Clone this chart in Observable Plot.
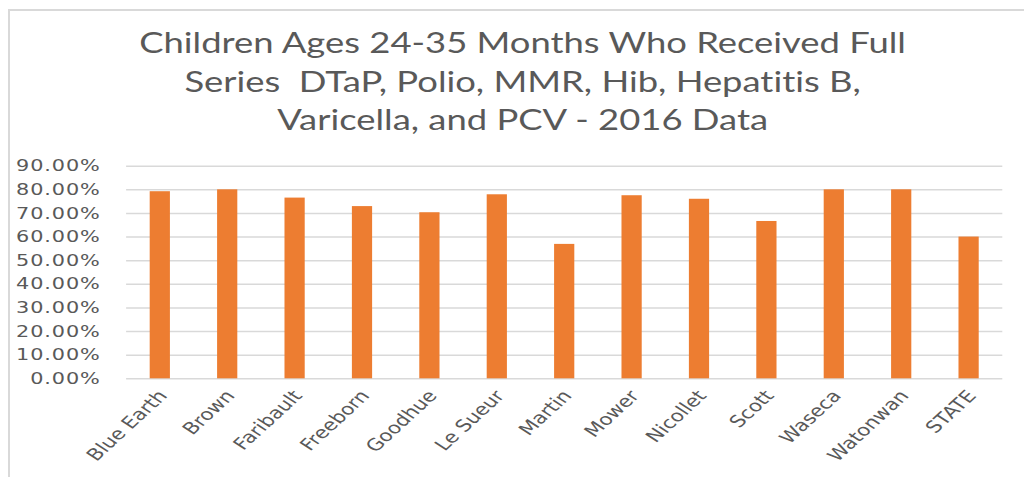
<!DOCTYPE html>
<html>
<head>
<meta charset="utf-8">
<script src="https://cdn.jsdelivr.net/npm/d3@7"></script>
<script src="https://cdn.jsdelivr.net/npm/@observablehq/plot@0.6"></script>
<style>
  html, body { margin: 0; padding: 0; background: #fff; overflow: hidden; width: 1024px; height: 477px; }
  #frame { position: absolute; left: 8px; top: 9px; width: 1100px; height: 600px; border: 2px solid #d9d9d9; box-sizing: border-box; }
  #stage { position: absolute; left: 0; top: 0; width: 788px; height: 477px; transform: scaleX(1.3); transform-origin: 0 0; }
  #title { position: absolute; left: 0; top: 23px; width: 804px; text-align: center; font-family: Lato, "Open Sans", sans-serif; font-size: 28px; line-height: 38.5px; color: #595959; white-space: pre; font-variant-ligatures: none; font-feature-settings: "liga" 0; }
  #chart { position: absolute; left: 0; top: 150px; }
</style>
</head>
<body>
<div id="frame"></div>
<div id="stage">
  <div id="title"></div>
  <div id="chart"></div>
</div>
<script>
// Counties (and the state figure) with the share of children 24-35 months fully vaccinated
const counties = ["Blue Earth", "Brown", "Faribault", "Freeborn", "Goodhue", "Le Sueur", "Martin", "Mower", "Nicollet", "Scott", "Waseca", "Watonwan", "STATE"];
const rates = [0.792, 0.800, 0.765, 0.729, 0.703, 0.779, 0.569, 0.775, 0.760, 0.666, 0.800, 0.800, 0.600];
const yTicks = [0, 0.1, 0.2, 0.3, 0.4, 0.5, 0.6, 0.7, 0.8, 0.9];
const titleLines = [
  "Children Ages 24-35 Months Who Received Full",
  "Series  DTaP, Polio, MMR, Hib, Hepatitis B,",
  "Varicella, and PCV - 2016 Data"
];

document.getElementById("title").textContent = titleLines.join("\n");

const data = counties.map((county, i) => ({county, rate: rates[i]}));
const textColor = "#595959";

const chart = Plot.plot({
  width: 788,
  height: 327,
  marginTop: 15.7,
  marginBottom: 98.7,
  marginLeft: 97,
  marginRight: 17,
  style: {fontFamily: "'DejaVu Sans', sans-serif", fontSize: "16px", color: textColor, background: "transparent"},
  x: {domain: counties, paddingInner: 0.7, paddingOuter: 0.35, round: false, label: null},
  y: {domain: [0, 0.9], label: null},
  marks: [
    Plot.ruleY(yTicks, {stroke: "#d9d9d9", strokeWidth: 1.6}),
    Plot.barY(data, {x: "county", y: "rate", fill: "#ED7D31"}),
    Plot.axisY({ticks: yTicks, tickSize: 0, tickPadding: 20, tickFormat: d => (d * 100).toFixed(2) + "%", fill: textColor, label: null}),
    Plot.axisX({tickSize: 0, tickPadding: 14, dx: 2, tickRotate: -50, fill: textColor, fontSize: 16.5, label: null})
  ]
});
chart.querySelectorAll("[aria-label='y-axis tick label'] text").forEach(t => t.setAttribute("letter-spacing", "0.7"));
document.getElementById("chart").appendChild(chart);
</script>
</body>
</html>
